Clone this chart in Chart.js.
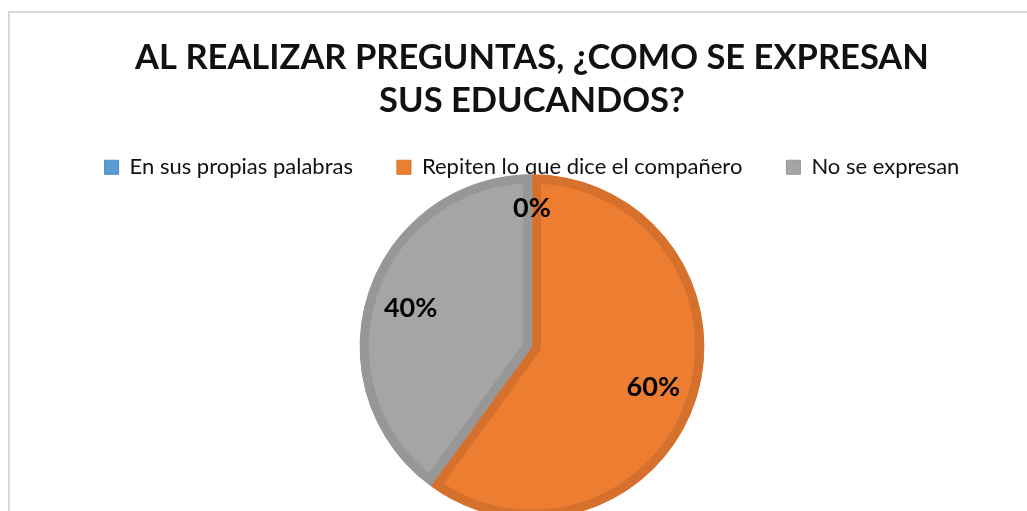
<!DOCTYPE html>
<html><head><meta charset="utf-8">
<script src="https://cdn.jsdelivr.net/npm/chart.js@4/dist/chart.umd.min.js"></script>
<style>
html,body{margin:0;padding:0;background:#fff;overflow:hidden;width:1027px;height:511px}
#wrap{position:relative;width:1027px;height:530px}
</style></head>
<body><div id="wrap"><canvas id="c" width="1027" height="530"></canvas></div>
<script>
const categories = ["En sus propias palabras", "Repiten lo que dice el compañero", "No se expresan"];
const values = [0, 60, 40];
const percentLabels = ["0%", "60%", "40%"];
const titleLines = ["AL REALIZAR PREGUNTAS, ¿COMO SE EXPRESAN", "SUS EDUCANDOS?"];
const fillColors = ["#5B9BD5", "#ED7D31", "#A5A5A5"];
const borderColors = ["#4A89C4", "#D5712D", "#979797"];

const framePlugin = {
  id: 'frame',
  beforeDraw(chart) {
    // let the legend draw past its (shortened) layout box
    if (chart.legend) chart.legend.bottom = chart.legend.top + 100;
    const ctx = chart.ctx;
    ctx.save();
    ctx.strokeStyle = '#D9D9D9';
    ctx.lineWidth = 2;
    ctx.beginPath();
    ctx.moveTo(9, 540);
    ctx.lineTo(9, 12);
    ctx.lineTo(1030, 12);
    ctx.stroke();
    ctx.restore();
  }
};

const labelPlugin = {
  id: 'pctLabels',
  afterDatasetsDraw(chart) {
    const ctx = chart.ctx;
    const meta = chart.getDatasetMeta(0);
    ctx.save();
    ctx.font = 'bold 27px Lato';
    ctx.fillStyle = '#000';
    ctx.textAlign = 'center';
    ctx.textBaseline = 'middle';
    meta.data.forEach((arc, i) => {
      const p = arc.getProps(['x', 'y', 'startAngle', 'endAngle', 'outerRadius'], true);
      const mid = (p.startAngle + p.endAngle) / 2;
      const f = values[i] === 0 ? 0.81 : 0.74;
      const r = p.outerRadius * f;
      ctx.fillText(percentLabels[i], p.x + Math.cos(mid) * r, p.y + Math.sin(mid) * r + 1);
    });
    ctx.restore();
  }
};

new Chart(document.getElementById('c'), {
  type: 'pie',
  data: {
    labels: categories,
    datasets: [{
      data: values,
      backgroundColor: fillColors,
      borderColor: borderColors,
      borderWidth: 9,
      borderAlign: 'inner'
    }]
  },
  plugins: [framePlugin, labelPlugin],
  options: {
    responsive: false,
    animation: false,
    events: [],
    layout: { padding: { left: 37, right: 0, top: 0, bottom: 11 } },
    plugins: {
      title: {
        display: true,
        text: titleLines,
        color: '#111',
        font: { family: 'Lato', size: 34.5, weight: 'bold', lineHeight: 1.25 },
        padding: { top: 36, bottom: -10 }
      },
      legend: {
        display: true,
        position: 'top',
        maxHeight: 62,
        labels: {
          color: '#111',
          font: { family: 'Lato', size: 22 },
          boxWidth: 14,
          boxHeight: 14,
          padding: 44,
          generateLabels(chart) {
            const items = Chart.overrides.pie.plugins.legend.labels.generateLabels(chart);
            items.forEach((it, i) => {
              it.fillStyle = fillColors[i];
              it.strokeStyle = borderColors[i];
              it.lineWidth = 1;
            });
            return items;
          }
        }
      },
      tooltip: { enabled: false }
    }
  }
});
</script>
</body></html>
